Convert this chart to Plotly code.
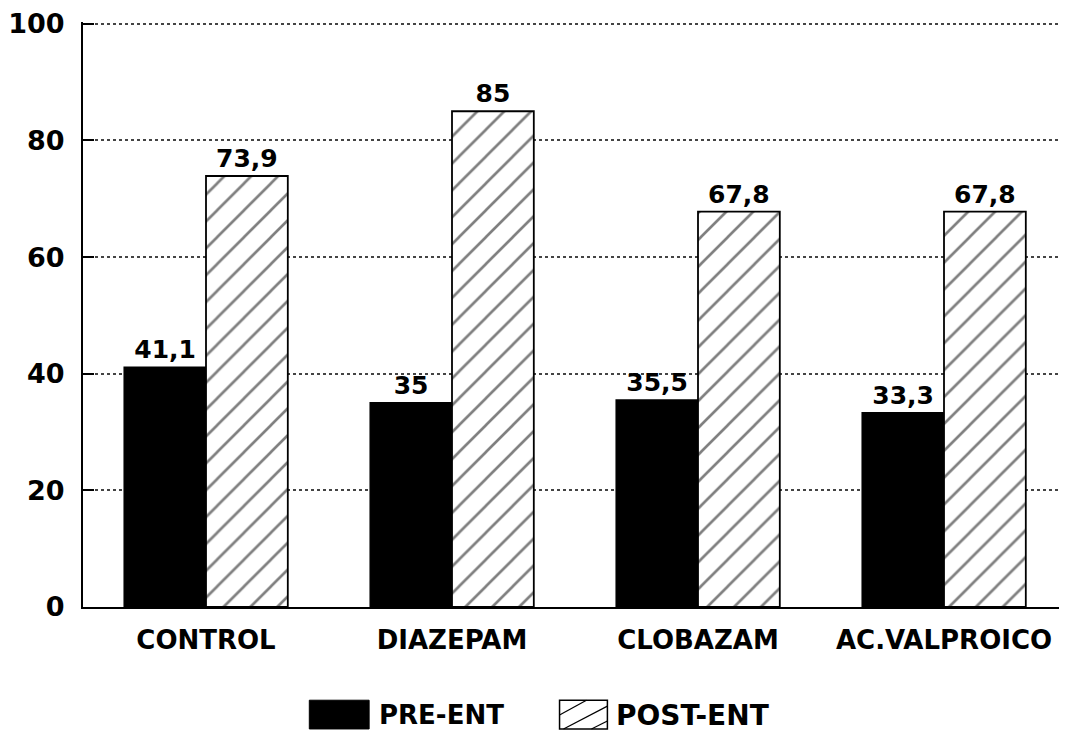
import plotly.graph_objects as go

categories = ["CONTROL", "DIAZEPAM", "CLOBAZAM", "AC.VALPROICO"]
pre_ent = [41.1, 35, 35.5, 33.3]
post_ent = [73.9, 85, 67.8, 67.8]
series_names = ["PRE-ENT", "POST-ENT"]
y_ticks = [0, 20, 40, 60, 80, 100]

# page body has an 8px margin, so the figure is drawn 8px smaller
OFF = 8
W, H = 1067 - OFF, 749 - OFF
ML, MR, MT, MB = 80 - OFF, 0, 17 - OFF, 142
PW, PH = W - ML - MR, H - MT - MB

FONT = "DejaVu Sans"


def fmt(v):
    return f"{v:g}".replace(".", ",")


def px(x):
    # x in page pixels -> paper coordinate
    return (x - OFF - ML) / PW


def py(y):
    # y in page pixels -> paper coordinate
    return (H - MB - (y - OFF)) / PH


fig = go.Figure()
fig.add_trace(go.Bar(
    x=categories, y=pre_ent, name=series_names[0],
    marker=dict(color="black", line=dict(color="black", width=1.5)),
    text=[fmt(v) for v in pre_ent], textposition="outside",
    textfont=dict(family=FONT, size=25, color="black", weight="bold"),
    cliponaxis=False,
))
fig.add_trace(go.Bar(
    x=categories, y=post_ent, name=series_names[1],
    marker=dict(color="white", line=dict(color="black", width=1.8),
                pattern=dict(shape="/", fgcolor="black", bgcolor="white",
                             size=19, solidity=0.14)),
    text=[fmt(v) for v in post_ent], textposition="outside",
    textfont=dict(family=FONT, size=25, color="black", weight="bold"),
    cliponaxis=False,
))

# custom legend
shapes = []
annotations = []
sy0, sy1 = py(730), py(701)
shapes.append(dict(type="rect", xref="paper", yref="paper",
                   x0=px(307), x1=px(367), y0=sy0, y1=sy1,
                   fillcolor="black", line=dict(color="black", width=1)))
shapes.append(dict(type="rect", xref="paper", yref="paper",
                   x0=px(558), x1=px(606), y0=sy0, y1=sy1,
                   fillcolor="white", line=dict(color="black", width=1.5)))
for a, b, c, d in [(558, 716, 585, 701), (562, 730, 606, 707), (590, 730, 606, 722)]:
    shapes.append(dict(type="line", xref="paper", yref="paper",
                       x0=px(a), y0=py(b), x1=px(c), y1=py(d),
                       line=dict(color="black", width=1.2)))
annotations.append(dict(xref="paper", yref="paper", x=px(375), y=py(716),
                        text=series_names[0], showarrow=False, xanchor="left",
                        yanchor="middle",
                        font=dict(family=FONT, size=26, color="black", weight="bold")))
annotations.append(dict(xref="paper", yref="paper", x=px(613), y=py(716),
                        text=series_names[1], showarrow=False, xanchor="left",
                        yanchor="middle",
                        font=dict(family=FONT, size=28, color="black", weight="bold")))

fig.update_layout(
    width=W, height=H,
    margin=dict(l=ML, r=MR, t=MT, b=MB),
    paper_bgcolor="white", plot_bgcolor="white",
    barmode="group", bargap=0.335, bargroupgap=0,
    showlegend=False,
    shapes=shapes, annotations=annotations,
    font=dict(family=FONT, color="black"),
)
fig.update_xaxes(
    showline=True, linecolor="black", linewidth=2,
    ticks="", showgrid=False, range=[-0.5, 3.5],
    tickfont=dict(family=FONT, size=26, color="black", weight="bold"),
    ticklabelstandoff=9,
)
fig.update_yaxes(
    range=[0, 100.3], tickvals=y_ticks, ticktext=[str(v) for v in y_ticks],
    showline=True, linecolor="black", linewidth=2,
    ticks="inside", ticklen=11, tickwidth=2, tickcolor="black",
    showgrid=True, gridcolor="#444", gridwidth=1.5, griddash="dot",
    zeroline=False,
    tickfont=dict(family=FONT, size=27, color="black", weight="bold"),
    ticklabelstandoff=11, ticklabeloverflow="allow",
)

fig.write_html("out.html")
